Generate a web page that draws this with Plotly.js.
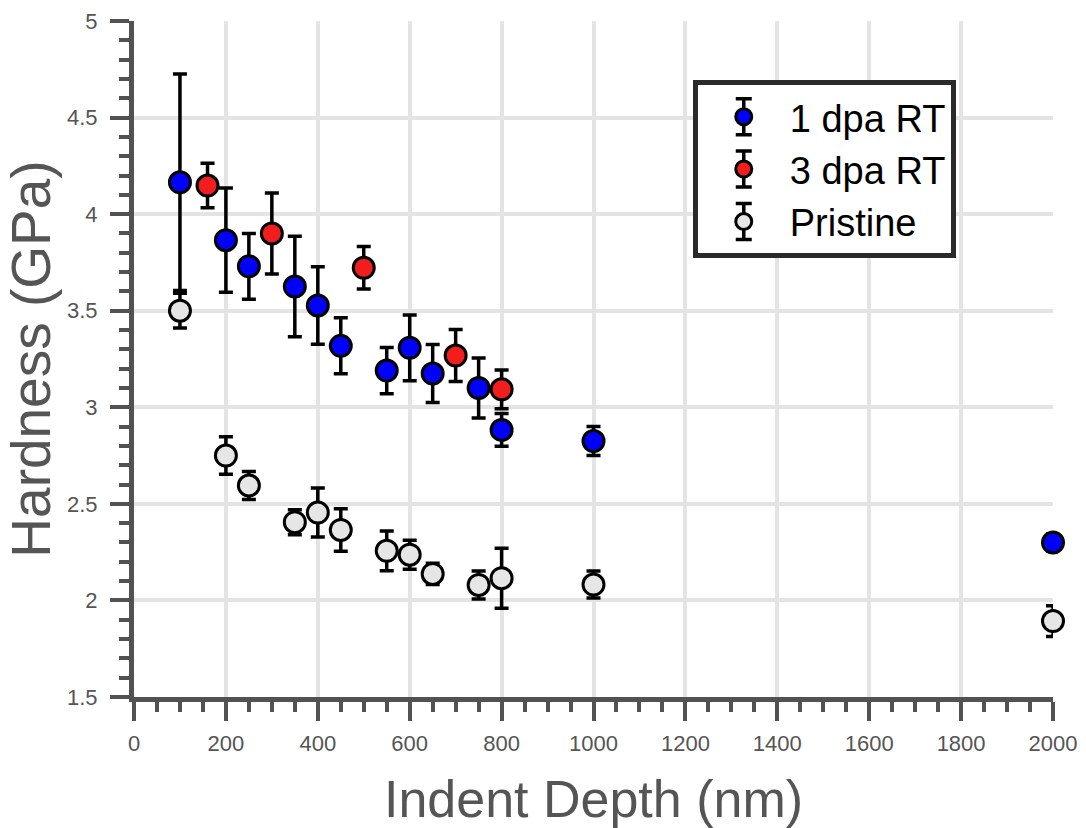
<!DOCTYPE html>
<html>
<head>
<meta charset="utf-8">
<script src="https://cdn.plot.ly/plotly-3.0.1.min.js"></script>
<style>html,body{margin:0;padding:0;background:#fff;}#chart{width:1086px;height:828px;}</style>
</head>
<body>
<div id="chart"></div>
<script>
// Data
const dpa1X   = [100, 200, 250, 350, 400, 450, 550, 600, 650, 750, 800, 1000, 2000];
const dpa1Y   = [4.165, 3.865, 3.73, 3.625, 3.527, 3.318, 3.19, 3.308, 3.175, 3.1, 2.883, 2.825, 2.300];
const dpa1Err = [0.56, 0.27, 0.17, 0.26, 0.20, 0.145, 0.12, 0.17, 0.15, 0.155, 0.085, 0.075, 0.045];

const dpa3X   = [160, 300, 500, 700, 800];
const dpa3Y   = [4.148, 3.90, 3.722, 3.268, 3.093];
const dpa3Err = [0.115, 0.21, 0.11, 0.135, 0.10];

const pristX   = [100, 200, 250, 350, 400, 450, 550, 600, 650, 750, 800, 1000, 2000];
const pristY   = [3.50, 2.75, 2.595, 2.405, 2.455, 2.365, 2.257, 2.237, 2.137, 2.080, 2.115, 2.082, 1.893];
const pristErr = [0.09, 0.097, 0.073, 0.065, 0.127, 0.11, 0.103, 0.075, 0.055, 0.073, 0.155, 0.07, 0.08];

const seriesNames = ['1 dpa RT', '3 dpa RT', 'Pristine'];
const seriesColors = ['#0000ff', '#f21d1d', '#e6e6e6'];

function makeTrace(x, y, err, name, color) {
  return {
    type: 'scatter', mode: 'markers', name: name, x: x, y: y,
    marker: {size: 21, color: color, line: {color: '#000', width: 3}},
    error_y: {type: 'data', array: err, visible: true, color: '#000', thickness: 3.5, width: 7},
    cliponaxis: false
  };
}

const traces = [
  makeTrace(dpa1X, dpa1Y, dpa1Err, seriesNames[0], seriesColors[0]),
  makeTrace(dpa3X, dpa3Y, dpa3Err, seriesNames[1], seriesColors[1]),
  makeTrace(pristX, pristY, pristErr, seriesNames[2], seriesColors[2])
];

const axisGray = '#525252';
const textGray = '#555555';
const gridGray = '#e4e4e4';
const FONT = 'Liberation Sans, Arial, sans-serif';

const layout = {
  width: 1086, height: 828,
  margin: {l: 134, r: 33, t: 21, b: 131},
  paper_bgcolor: '#fff', plot_bgcolor: '#fff',
  font: {family: FONT, color: textGray},
  showlegend: true,
  legend: {
    x: 0.608, y: 0.912, xanchor: 'left', yanchor: 'top',
    bordercolor: '#2a2a2a', borderwidth: 5, bgcolor: '#fff',
    font: {size: 38, color: '#000', family: FONT},
    itemsizing: 'trace', itemwidth: 82
  },
  xaxis: {
    range: [0, 2000], dtick: 200, tick0: 0,
    showline: true, linecolor: axisGray, linewidth: 5,
    ticks: 'outside', ticklen: 19, tickwidth: 4, tickcolor: axisGray,
    tickfont: {size: 22, color: textGray, family: FONT},
    ticklabelstandoff: 4,
    showgrid: true, gridcolor: gridGray, gridwidth: 4,
    zeroline: false,
    minor: {dtick: 50, ticks: 'outside', ticklen: 10, tickwidth: 4, tickcolor: axisGray, showgrid: false},
    title: {text: 'Indent Depth (nm)', font: {size: 52, color: textGray, family: FONT}, standoff: 28}
  },
  yaxis: {
    range: [1.5, 5], dtick: 0.5, tick0: 1.5,
    showline: true, linecolor: axisGray, linewidth: 5,
    ticks: 'outside', ticklen: 19, tickwidth: 4, tickcolor: axisGray,
    tickfont: {size: 22, color: textGray, family: FONT},
    ticklabelstandoff: 8,
    showgrid: true, gridcolor: gridGray, gridwidth: 4,
    zeroline: false,
    minor: {dtick: 0.1, ticks: 'outside', ticklen: 10, tickwidth: 4, tickcolor: axisGray, showgrid: false},
    title: {text: 'Hardness (GPa)', font: {size: 55, color: textGray, family: FONT}, standoff: 8}
  }
};

// Add small error-bar glyphs to the legend symbols (as in the reference legend)
function addLegendErrorBars(gd) {
  const NS = 'http://www.w3.org/2000/svg';
  gd.querySelectorAll('g.legend g.traces').forEach(function (item) {
    const pts = item.querySelector('g.legendpoints');
    if (!pts) return;
    const pt = pts.querySelector('path.scatterpts');
    let cx = 20, cy = 0;
    if (pt) {
      const m = /translate\(\s*([-\d.]+)[ ,]+([-\d.]+)/.exec(pt.getAttribute('transform') || '');
      if (m) { cx = parseFloat(m[1]); cy = parseFloat(m[2]); }
    }
    const h = 18, w = 8;
    const p = document.createElementNS(NS, 'path');
    p.setAttribute('d', 'M' + cx + ',' + (cy - h) + 'V' + (cy + h) +
      'M' + (cx - w) + ',' + (cy - h) + 'H' + (cx + w) +
      'M' + (cx - w) + ',' + (cy + h) + 'H' + (cx + w));
    p.setAttribute('stroke', '#000');
    p.setAttribute('stroke-width', '3.5');
    p.setAttribute('fill', 'none');
    pts.insertBefore(p, pts.firstChild);
  });
}

Plotly.newPlot('chart', traces, layout, {displayModeBar: false, staticPlot: true})
  .then(addLegendErrorBars);
</script>
</body>
</html>
